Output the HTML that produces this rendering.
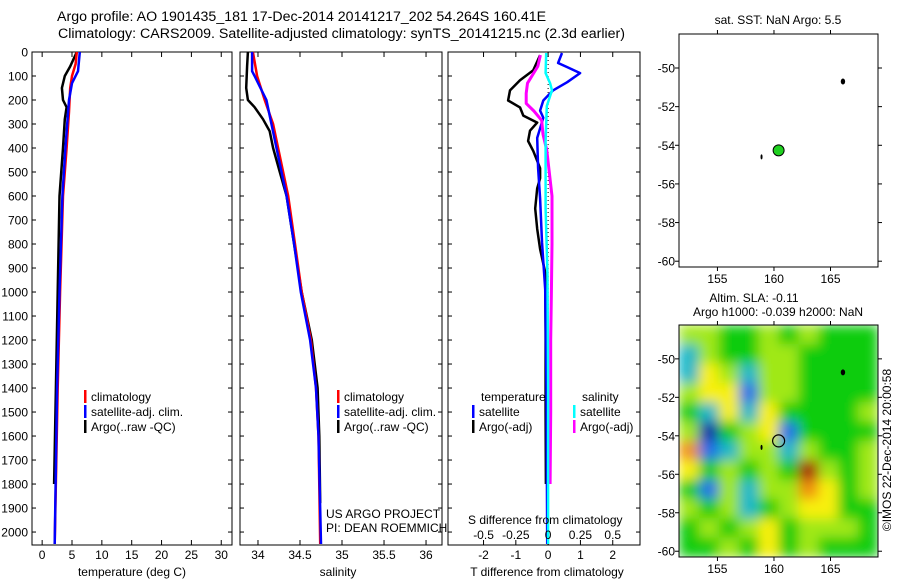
<!DOCTYPE html>
<html><head><meta charset="utf-8"><style>
html,body{margin:0;padding:0;background:#fff}
svg{display:block;font-family:"Liberation Sans",sans-serif}
text{fill:#000}
</style></head><body>
<svg id="c" width="900" height="580" viewBox="0 0 900 580">
<defs>
<filter id="blur" x="0" y="0" width="100%" height="100%"><feGaussianBlur stdDeviation="6" edgeMode="duplicate"/></filter>
<clipPath id="mapclip"><rect x="679" y="325" width="199" height="232"/></clipPath>
</defs>
<text x="57" y="21" font-size="14.2">Argo profile: AO 1901435_181 17-Dec-2014 20141217_202 54.264S 160.41E</text>
<text x="58" y="38" font-size="14.2">Climatology: CARS2009. Satellite-adjusted climatology: synTS_20141215.nc (2.3d earlier)</text>
<g id="g"></g>
</svg>
<script>
// ---- data ----
const depthTicks=[0,100,200,300,400,500,600,700,800,900,1000,1100,1200,1300,1400,1500,1600,1700,1800,1900,2000];
const tempTicks=[0,5,10,15,20,25,30];
const salTicks=[34,34.5,35,35.5,36];
const salTickLabels=["34","34.5","35","35.5","36"];
const tdiffTicks=[-2,-1,0,1,2];
const sdiffTicks=[-0.5,-0.25,0,0.25,0.5];
const sdiffLabels=["-0.5","-0.25","0","0.25","0.5"];

const tClimDepth=[0,50,100,150,250,400,600,1000,1400,2050];
const tClimVal=[5.8,5.6,5.0,4.7,4.5,4.1,3.5,3.0,2.6,2.1];
const tSatDepth=[0,80,130,200,400,600,1000,1400,2050];
const tSatVal=[6.3,6.0,5.0,4.5,3.9,3.4,2.9,2.5,2.1];
const tArgoDepth=[0,60,100,150,200,230,280,400,600,1000,1400,1800];
const tArgoVal=[5.8,4.7,3.8,3.3,3.5,4.1,3.8,3.5,2.9,2.6,2.3,2.0];

const sClimDepth=[0,100,200,300,400,600,800,1000,1200,1400,1600,2050];
const sClimVal=[33.94,33.99,34.08,34.18,34.24,34.36,34.44,34.52,34.63,34.69,34.72,34.74];
const sSatDepth=[0,80,100,200,400,600,800,1000,1200,1400,1600,2050];
const sSatVal=[33.93,33.93,33.96,34.1,34.22,34.34,34.43,34.51,34.62,34.69,34.72,34.75];
const sArgoDepth=[0,60,150,200,230,280,330,400,500,600,800,1000,1200,1400,1600,1880];
const sArgoVal=[33.88,33.87,33.86,33.88,33.96,34.06,34.14,34.18,34.26,34.34,34.43,34.52,34.64,34.71,34.73,34.74];

const dtArgoDepth=[13,76,118,160,202,231,265,294,328,371,413,484,526,568,652,737,821,918,1200,1500,1800];
const dtArgoVal=[-0.25,-0.46,-0.87,-1.18,-1.24,-0.87,-0.77,-0.34,-0.56,-0.62,-0.46,-0.25,-0.25,-0.34,-0.40,-0.34,-0.25,-0.09,-0.08,-0.08,-0.07];
const dtSatDepth=[4,46,63,88,126,160,202,244,274,358,484,610,792,989,1400,2050];
const dtSatVal=[0.43,0.31,0.59,0.99,0.59,0.15,-0.15,-0.25,-0.15,-0.34,-0.31,-0.25,-0.19,-0.09,-0.05,-0.03];
const dsArgoDepth=[13,60,130,172,214,246,285,343,410,600,800,1000,1200,1500,1800];
const dsArgoVal=[-0.06,-0.08,-0.16,-0.17,-0.17,-0.11,-0.05,-0.04,-0.01,0.03,0.03,0.025,0.02,0.02,0.015];
const dsSatDepth=[4,88,130,160,225,370,652,930,1400,2050];
const dsSatVal=[-0.015,-0.02,0.015,0.03,-0.01,-0.02,-0.02,-0.005,0,0];

const lonTicks=[155,160,165];
const latTicks=[-50,-52,-54,-56,-58,-60];
const argoLon=160.41, argoLat=-54.264;
const markLon=[158.9,166.1], markLat=[-54.6,-50.7];
// SLA grid (rows north->south, cols west->east), coarse reading of colour levels
const slaGrid=[
[1,1,0,0,1,0,1,0,0,0],
[-1,1,0,0,1,1,0,0,0,0],
[-1,2,1,-1,1,1,0,0,0,0],
[1,2,2,-2,1,1,0,0,0,0],
[0,-1,2,-1,2,0,0,0,0,1],
[1,-3,0,1,2,-2,0,0,0,0],
[3,-2,-1,1,1,-1,1,0,0,1],
[2,0,1,0,1,0,4,1,0,1],
[0,-2,1,-1,1,1,3,2,0,1],
[1,0,1,-1,0,1,2,2,0,0],
[0,1,0,1,2,0,1,1,1,0],
[0,0,1,0,2,0,1,0,0,0]];

// ---- drawing ----
const NS="http://www.w3.org/2000/svg";
const G=document.getElementById('g');
function mk(tag,attrs,parent){const e=document.createElementNS(NS,tag);for(const k in attrs)e.setAttribute(k,attrs[k]);(parent||G).appendChild(e);return e;}
function txt(x,y,s,size,anchor,parent){const t=mk('text',{x:x,y:y,'font-size':size,'text-anchor':anchor||'start'},parent);t.textContent=s;return t;}

const Y0=52,Y1=545,D0=0,D1=2054;
const yD=d=>Y0+(d-D0)/(D1-D0)*(Y1-Y0);
const panels=[
 {x0:32,x1:232,v0:-1.7,v1:31.8,name:'temperature-panel'},
 {x0:240,x1:442,v0:33.786,v1:36.19,name:'salinity-panel'},
 {x0:448,x1:640,v0:-3.1,v1:2.844,name:'difference-panel'}];
panels.forEach(p=>{p.x=v=>p.x0+(v-p.v0)/(p.v1-p.v0)*(p.x1-p.x0);});

function line(p,depths,vals,color,w,name,scale){
 const pts=depths.map((d,i)=>p.x(vals[i]*(scale||1)).toFixed(1)+','+yD(d).toFixed(1)).join(' ');
 const el=mk('polyline',{points:pts,fill:'none',stroke:color,'stroke-width':w,'stroke-linejoin':'round'});
 
 
}

panels.forEach((p,pi)=>{
 const g=mk('g',{});
 
 
 mk('rect',{x:p.x0,y:Y0,width:p.x1-p.x0,height:Y1-Y0,fill:'#fff',stroke:'#000','stroke-width':1},g);
 depthTicks.forEach(d=>{
  const y=yD(d);
  mk('line',{x1:p.x0,x2:p.x0+4,y1:y,y2:y,stroke:'#000'},g);
  mk('line',{x1:p.x1,x2:p.x1-4,y1:y,y2:y,stroke:'#000'},g);
  if(pi===0){const t=txt(28,y+4.5,String(d),12,'end',g);}
 });
 let ticks,labels;
 if(pi===0){ticks=tempTicks;labels=tempTicks.map(String);}
 else if(pi===1){ticks=salTicks;labels=salTickLabels;}
 else {ticks=tdiffTicks;labels=tdiffTicks.map(String);}
 ticks.forEach((v,i)=>{
  const x=p.x(v);
  mk('line',{x1:x,x2:x,y1:Y0,y2:Y0+5,stroke:'#000'},g);
  mk('line',{x1:x,x2:x,y1:Y1,y2:Y1-5,stroke:'#000'},g);
  const t=txt(x,559,labels[i],12,'middle',g);
  
  
 });
});
const xt1=txt(132,576,'temperature (deg C)',12,'middle');
const xt2=txt(338,576,'salinity',12,'middle');
const xt3=txt(547,576,'T difference from climatology',12,'middle');

// zero line in diff panel
const P3=panels[2];
const zl=mk('line',{x1:P3.x(0),x2:P3.x(0),y1:Y0,y2:Y1,stroke:'#000','stroke-dasharray':'1,3'});


line(panels[0],tArgoDepth,tArgoVal,'#000',2.5,'temp-argo-line');
line(panels[0],tClimDepth,tClimVal,'#f00',2.5,'temp-climatology-line');
line(panels[0],tSatDepth,tSatVal,'#00f',2.5,'temp-satellite-line');
line(panels[1],sArgoDepth,sArgoVal,'#000',2.5,'sal-argo-line');
line(panels[1],sClimDepth,sClimVal,'#f00',2.5,'sal-climatology-line');
line(panels[1],sSatDepth,sSatVal,'#00f',2.5,'sal-satellite-line');
line(P3,dtArgoDepth,dtArgoVal,'#000',2.5,'tdiff-argo-line');
line(P3,dtSatDepth,dtSatVal,'#00f',2.5,'tdiff-satellite-line');
line(P3,dsArgoDepth,dsArgoVal,'#f0f',3,'sdiff-argo-line',4);
line(P3,dsSatDepth,dsSatVal,'#0ff',2.5,'sdiff-satellite-line',4);

// S-diff labels
const sdt=txt(468,524,'S difference from climatology',12);
sdiffTicks.forEach((v,i)=>{const t=txt(P3.x(v*4),539,sdiffLabels[i],12,'middle');});

// legends
function legItem(x,y,color,label,name){
 const g=mk('g',{});
 
 
 mk('rect',{x:x,y:y-11,width:2.5,height:13,fill:color},g);
 txt(x+7,y,label,12,'start',g);
}
[[84,'temperature'],[337,'salinity']].forEach(([x,n])=>{
 legItem(x,401,'#f00','climatology',n+'-legend-climatology');
 legItem(x,416,'#00f','satellite-adj. clim.',n+'-legend-satellite');
 legItem(x,431,'#000','Argo(..raw -QC)',n+'-legend-argo');
});
const lt=txt(481,401,'temperature',12);
const ls=txt(582,401,'salinity',12);
legItem(472,416,'#00f','satellite','legend-t-satellite');
legItem(472,431,'#000','Argo(-adj)','legend-t-argo');
legItem(573,416,'#0ff','satellite','legend-s-satellite');
legItem(573,431,'#f0f','Argo(-adj)','legend-s-argo');
const us=txt(326,518,'US ARGO PROJECT',12);
const pi=txt(326,532,'PI: DEAN ROEMMICH',12);

// ---- maps ----
function mapAxes(top,bottom,name){
 const m={x0:679,x1:878,y0:top,y1:bottom,lon0:151.6,lon1:169.2,lat0:-48.24,lat1:-60.3};
 m.x=l=>m.x0+(l-m.lon0)/(m.lon1-m.lon0)*(m.x1-m.x0);
 m.y=l=>m.y0+(l-m.lat0)/(m.lat1-m.lat0)*(m.y1-m.y0);
 m.name=name;
 return m;
}
const M1=mapAxes(34,267,'sst-map');
const M2=mapAxes(325,557,'sla-map');

// heatmap
const hg=mk('g',{'clip-path':'url(#mapclip)'});


const hin=mk('g',{filter:'url(#blur)'},hg);
const cmap={'-3':'#0c2ca8','-2':'#2070e8','-1':'#18b8c8','0':'#10cc10','1':'#a0e818','2':'#f8f010','3':'#f09010','4':'#a81808'};
mk('rect',{x:679,y:325,width:199,height:232,fill:'#10cc10'},hin);
const nr=slaGrid.length,nc=slaGrid[0].length;
slaGrid.forEach((row,r)=>row.forEach((v,c)=>{
 const x=M2.x0+c*(M2.x1-M2.x0)/nc, y=M2.y0+r*(M2.y1-M2.y0)/nr;
 const cell=mk('rect',{x:x,y:y,width:(M2.x1-M2.x0)/nc+0.5,height:(M2.y1-M2.y0)/nr+0.5,fill:cmap[String(v)]},hin);
 
 
}));

[M1,M2].forEach(m=>{
 const g=mk('g',{});
 
 
 mk('rect',{x:m.x0,y:m.y0,width:m.x1-m.x0,height:m.y1-m.y0,fill:'none',stroke:'#000'},g);
 lonTicks.forEach(l=>{const x=m.x(l);
  mk('line',{x1:x,x2:x,y1:m.y0,y2:m.y0-4,stroke:'#000'},g);
  mk('line',{x1:x,x2:x,y1:m.y1,y2:m.y1+4,stroke:'#000'},g);
  const t=txt(x,m.y1+16,String(l),12,'middle',g);});
 latTicks.forEach(l=>{const y=m.y(l);
  mk('line',{x1:m.x0,x2:m.x0-4,y1:y,y2:y,stroke:'#000'},g);
  mk('line',{x1:m.x1,x2:m.x1+4,y1:y,y2:y,stroke:'#000'},g);
  const t=txt(m.x0-4,y+4.5,String(l),12,'end',g);});
 markLon.forEach((l,i)=>{const mkk=mk('ellipse',{cx:m.x(l),cy:m.y(markLat[i]),rx:i?2.2:1,ry:i?3:2.5,fill:'#000'},g);});
});
const gd=mk('circle',{cx:M1.x(argoLon),cy:M1.y(argoLat),r:5.5,fill:'#20d020',stroke:'#000','stroke-width':1});

const oc=mk('circle',{cx:M2.x(argoLon),cy:M2.y(argoLat),r:6,fill:'none',stroke:'#000','stroke-width':1.2});


const t1=txt(778,24,'sat. SST: NaN Argo: 5.5',12,'middle');
const t2=txt(754,302,'Altim. SLA: -0.11',12,'middle');
const t3=txt(778,316,'Argo h1000: -0.039 h2000: NaN',12,'middle');
const cp=txt(0,0,'©IMOS 22-Dec-2014 20:00:58',12,'middle');
cp.setAttribute('transform','translate(891,450) rotate(-90)');

</script>
</body></html>
